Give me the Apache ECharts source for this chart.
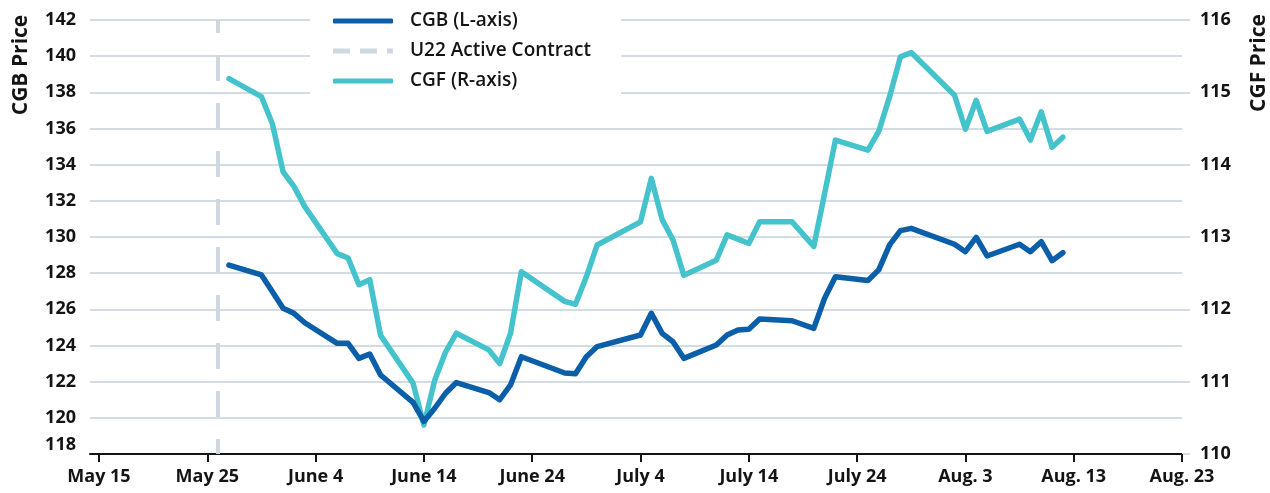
<!DOCTYPE html>
<html>
<head>
<meta charset="utf-8">
<script src="https://cdn.jsdelivr.net/npm/echarts@6/dist/echarts.min.js"></script>
<style>
html, body { margin: 0; padding: 0; background: #fff; }
#chart { width: 1270px; height: 493px; }
</style>
</head>
<body>
<div id="chart"></div>
<script>
// trading days shown on the chart (2022)
var dates = ['2022-05-27', '2022-05-30', '2022-05-31', '2022-06-01', '2022-06-02', '2022-06-03',
	'2022-06-06', '2022-06-07', '2022-06-08', '2022-06-09', '2022-06-10',
	'2022-06-13', '2022-06-14', '2022-06-15', '2022-06-16', '2022-06-17',
	'2022-06-20', '2022-06-21', '2022-06-22', '2022-06-23',
	'2022-06-27', '2022-06-28', '2022-06-29', '2022-06-30',
	'2022-07-04', '2022-07-05', '2022-07-06', '2022-07-07', '2022-07-08',
	'2022-07-11', '2022-07-12', '2022-07-13', '2022-07-14', '2022-07-15',
	'2022-07-18', '2022-07-20', '2022-07-21', '2022-07-22',
	'2022-07-25', '2022-07-26', '2022-07-27', '2022-07-28', '2022-07-29',
	'2022-08-02', '2022-08-03', '2022-08-04', '2022-08-05',
	'2022-08-08', '2022-08-09', '2022-08-10', '2022-08-11', '2022-08-12'];

var cgb = [128.45, 127.9, 126.98, 126.06, 125.78, 125.26,
	124.12, 124.12, 123.29, 123.53, 122.37,
	120.85, 119.8, 120.53, 121.36, 121.95,
	121.4, 121.0, 121.82, 123.38,
	122.48, 122.44, 123.38, 123.94,
	124.58, 125.78, 124.67, 124.21, 123.29,
	124.03, 124.58, 124.86, 124.9, 125.47,
	125.37, 124.95, 126.61, 127.8,
	127.59, 128.18, 129.56, 130.35, 130.48,
	129.6, 129.19, 129.98, 128.95,
	129.6, 129.19, 129.74, 128.69, 129.13];

var cgf = [115.19, 114.94, 114.57, 113.9, 113.7, 113.42,
	112.77, 112.71, 112.34, 112.41, 111.64,
	110.98, 110.4, 111.02, 111.41, 111.67,
	111.44, 111.25, 111.67, 112.52,
	112.11, 112.07, 112.45, 112.89,
	113.21, 113.81, 113.24, 112.96, 112.47,
	112.68, 113.03, 112.97, 112.91, 113.21,
	113.21, 112.87, 113.6, 114.34,
	114.2, 114.46, 114.94, 115.49, 115.55,
	114.96, 114.49, 114.89, 114.46,
	114.63, 114.34, 114.73, 114.24, 114.38];

var u22Date = '2022-05-26';

var tickDates = ['2022-05-15', '2022-05-25', '2022-06-04', '2022-06-14', '2022-06-24', '2022-07-04',
	'2022-07-14', '2022-07-24', '2022-08-03', '2022-08-13', '2022-08-23'];
var tickLabels = ['May 15', 'May 25', 'June 4', 'June 14', 'June 24', 'July 4',
	'July 14', 'July 24', 'Aug. 3', 'Aug. 13', 'Aug. 23'];

var BASE = tickDates[0];
function dayOf(s) {
	return (Date.parse(s) - Date.parse(BASE)) / 86400000;
}

var tickDays = tickDates.map(dayOf);
var cgbPts = [], cgfPts = [];
for (var i = 0; i < dates.length; i++) {
	cgbPts.push([dayOf(dates[i]), cgb[i]]);
	cgfPts.push([dayOf(dates[i]), cgf[i]]);
}

var FONT = '"Open Sans", "Noto Sans", sans-serif';
var INK = '#141414';
var GRIDC = '#d3dbe3';
var BLUE = '#0b5fa9';
var TEAL = '#45c3cc';
var DASHC = '#cfd8e0';

var labelStyle = { color: INK, fontSize: 18, fontWeight: 'bold', fontFamily: FONT };

// legend swatches: solid bar and three dashes
var dashIcon = 'path://M0,0h17v5h-17z M27,0h17v5h-17z M54,0h6v5h-6z';

var option = {
	animation: false,
	backgroundColor: '#fff',
	grid: { left: 90, right: 88, top: 20, bottom: 39 },
	legend: {
		orient: 'vertical',
		left: 310,
		top: 1,
		itemWidth: 60,
		itemHeight: 5,
		itemGap: 10,
		padding: [10, 30, 8, 23],
		backgroundColor: '#fff',
		textStyle: { color: INK, fontSize: 19, lineHeight: 20, fontFamily: FONT, fontWeight: 600, padding: [0, 0, 0, 12] },
		data: [
			{ name: 'CGB (L-axis)', icon: 'roundRect' },
			{ name: 'U22 Active Contract', icon: dashIcon },
			{ name: 'CGF (R-axis)', icon: 'roundRect' }
		]
	},
	xAxis: {
		type: 'value',
		min: -0.83,
		max: 100,
		axisLine: { lineStyle: { color: INK, width: 2 } },
		axisTick: { customValues: tickDays, length: 8, lineStyle: { color: INK, width: 2 } },
		axisLabel: Object.assign({
			customValues: tickDays,
			margin: 14,
			formatter: function (v) {
				var k = tickDays.indexOf(v);
				return k >= 0 ? tickLabels[k] : '';
			}
		}, labelStyle),
		splitLine: { show: false }
	},
	yAxis: [
		{
			type: 'value',
			position: 'left',
			min: 118,
			max: 142,
			interval: 2,
			axisLine: { show: false },
			axisTick: { show: false },
			axisLabel: Object.assign({ margin: 14, verticalAlignMinLabel: 'bottom' }, labelStyle),
			splitLine: { lineStyle: { color: GRIDC, width: 2 } }
		},
		{
			type: 'value',
			position: 'right',
			min: 110,
			max: 116,
			interval: 1,
			axisLine: { show: false },
			axisTick: { show: true, length: 8, lineStyle: { color: GRIDC, width: 2 } },
			axisLabel: Object.assign({ margin: 18 }, labelStyle),
			splitLine: { show: false }
		}
	],
	graphic: [
		{
			type: 'text', x: 21, y: 65, rotation: Math.PI / 2,
			style: { text: 'CGB Price', fill: INK, font: 'bold 21px ' + FONT, align: 'center', verticalAlign: 'middle', textAlign: 'center', textVerticalAlign: 'middle' }
		},
		{
			type: 'text', x: 1259, y: 63, rotation: Math.PI / 2,
			style: { text: 'CGF Price', fill: INK, font: 'bold 21px ' + FONT, align: 'center', verticalAlign: 'middle', textAlign: 'center', textVerticalAlign: 'middle' }
		}
	],
	series: [
		{
			name: 'CGB (L-axis)',
			type: 'line',
			yAxisIndex: 0,
			data: cgbPts,
			symbol: 'none',
			lineStyle: { color: BLUE, width: 5.5, join: 'round', cap: 'round' },
			itemStyle: { color: BLUE },
			z: 3
		},
		{
			name: 'U22 Active Contract',
			type: 'line',
			yAxisIndex: 0,
			data: [],
			symbol: 'none',
			lineStyle: { color: DASHC, width: 4, type: [16, 10] },
			itemStyle: { color: DASHC },
			markLine: {
				silent: true,
				symbol: 'none',
				label: { show: false },
				lineStyle: { color: DASHC, width: 4, type: [26, 22], dashOffset: 11 },
				data: [{ xAxis: dayOf(u22Date) }]
			},
			z: 1
		},
		{
			name: 'CGF (R-axis)',
			type: 'line',
			yAxisIndex: 1,
			data: cgfPts,
			symbol: 'none',
			lineStyle: { color: TEAL, width: 5.5, join: 'round', cap: 'round' },
			itemStyle: { color: TEAL },
			z: 2
		}
	]
};

var myChart = echarts.init(document.getElementById('chart'));
myChart.setOption(option);
</script>
</body>
</html>
